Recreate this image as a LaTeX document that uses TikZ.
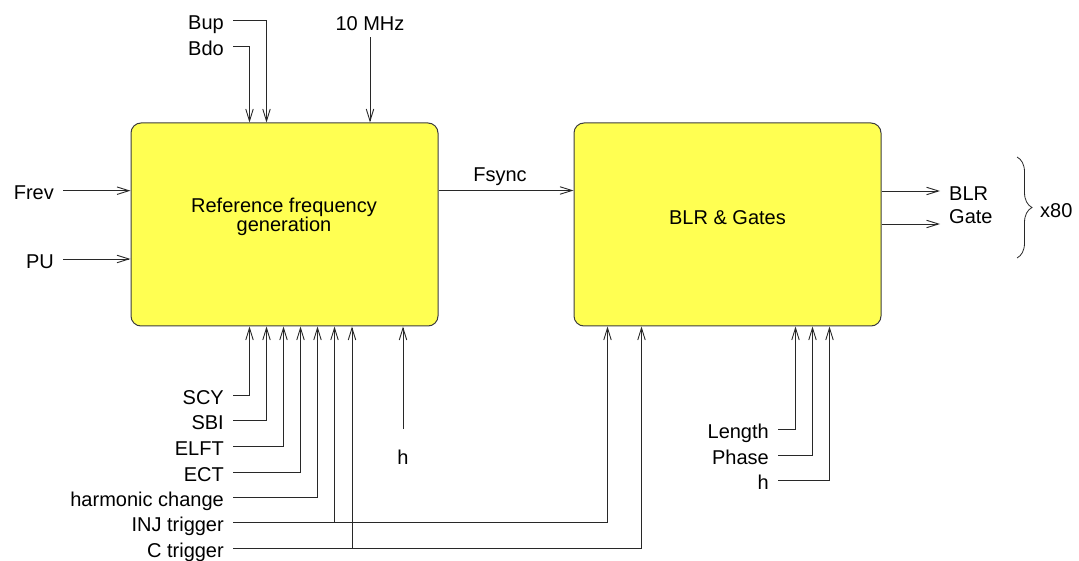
\documentclass[tikz,border=0pt]{standalone}
\usepackage{fontspec}
\setmainfont{Liberation Sans}
\usetikzlibrary{arrows.meta,calc,decorations.pathreplacing}
\definecolor{boxy}{RGB}{255,255,82}
\definecolor{ink}{RGB}{40,40,40}
\begin{document}
\begin{tikzpicture}[x=1pt,y=-1pt,
  every node/.style={font=\fontsize{20}{17}\selectfont},
  blk/.style={draw=ink!90, fill=boxy, line width=1pt, rounded corners=10pt,
              minimum width=307pt, minimum height=203pt, inner sep=0pt},
  lbl/.style={inner xsep=9pt, inner ysep=0pt, text height=18.4pt, text depth=0pt},
  sig/.style={draw=ink, line width=0.9pt, -{Straight Barb[length=12pt,width=7.5pt]}}]
\useasboundingbox (0,0) rectangle (1079,561);

% blocks
\node[blk] (b1) at (284.5,224.5) {};
\node[blk] (b2) at (727.5,224.5) {};
\node[anchor=base,inner sep=0pt] (rf1) at (284,213) {Reference frequency};
\node[anchor=base,inner sep=0pt] (rf2) at (284,232) {generation};
\node[anchor=base] (bg) at (727.5,225) {BLR \& Gates};

% top inputs
\node[lbl,anchor=east] (bup) at (233,20.7) {Bup};
\node[lbl,anchor=east] (bdo) at (233,46) {Bdo};
\node[lbl,anchor=south,inner ysep=7pt] (mhz) at (370,37.5) {10 MHz};
\draw[sig] (bup.east) -| ($(b1.north west)+(136,0)$);
\draw[sig] (bdo.east) -| ($(b1.north west)+(119,0)$);
\draw[sig] (mhz.south) -- (mhz.south |- b1.north);

% left inputs
\node[lbl,anchor=east] (frev) at (63,190.7) {Frev};
\node[lbl,anchor=east] (pu) at (63,259) {PU};
\draw[sig] (frev.east) -- (frev.east -| b1.west);
\draw[sig] (pu.east) -- (pu.east -| b1.west);

% Fsync
\node[lbl] (fs) at (500,172.5) {Fsync};
\draw[sig] ($(b1.north east)+(0,68)$) -- ($(b2.north west)+(0,68)$);

% outputs
\node[lbl,anchor=west] (blr) at (940,191) {BLR};
\coordinate (gend) at (940,224);
\node[lbl,anchor=west,inner xsep=0pt] (gate) at (949,214.5) {Gate};
\draw[sig] (blr.west -| b2.east) -- (blr.west);
\draw[sig] (gend -| b2.east) -- (gend);
\draw[ink, line width=0.8pt, decorate, decoration={brace, amplitude=15pt}]
  (1017,157) -- (1017,258);
\node[lbl,anchor=west,inner xsep=0pt] (x80) at (1040,208) {x80};

% bottom inputs, block 1
\node[lbl,anchor=east] (scy) at (233,395.3) {SCY};
\node[lbl,anchor=east] (sbi) at (233,420.7) {SBI};
\node[lbl,anchor=east] (elft) at (233,446) {ELFT};
\node[lbl,anchor=east] (ect) at (233,472) {ECT};
\node[lbl,anchor=east] (hc) at (233,497.7) {harmonic change};
\node[lbl,anchor=east] (inj) at (233,522.7) {INJ trigger};
\node[lbl,anchor=east] (ctr) at (233,548.7) {C trigger};
\draw[sig] (scy.east) -| ($(b1.south west)+(119,0)$);
\draw[sig] (sbi.east) -| ($(b1.south west)+(136,0)$);
\draw[sig] (elft.east) -| ($(b1.south west)+(153,0)$);
\draw[sig] (ect.east) -| ($(b1.south west)+(170,0)$);
\draw[sig] (hc.east) -| ($(b1.south west)+(187,0)$);
\coordinate (injb) at ($(b1.south west)+(204,0)$);
\coordinate (ctrb) at ($(b1.south west)+(221.5,0)$);
\draw[sig] (inj.east) -| ($(b2.south west)+(34,0)$);
\draw[sig] (ctr.east) -| ($(b2.south west)+(68,0)$);
\draw[sig] (inj.east -| injb) -- (injb);
\draw[sig] (ctr.east -| ctrb) -- (ctrb);

% h for block 1
\node[lbl] (h1) at (403,454.8) {h};
\coordinate (h1s) at (403,429);
\draw[sig] (h1s) -- (h1s |- b1.south);

% bottom inputs, block 2
\node[lbl,anchor=east] (len) at (778,429) {Length};
\node[lbl,anchor=east] (pha) at (778,455) {Phase};
\node[lbl,anchor=east] (h2) at (778,480.7) {h};
\draw[sig] (len.east) -| ($(b2.south west)+(222,0)$);
\draw[sig] (pha.east) -| ($(b2.south west)+(239,0)$);
\draw[sig] (h2.east) -| ($(b2.south west)+(256,0)$);
\end{tikzpicture}
\end{document}
